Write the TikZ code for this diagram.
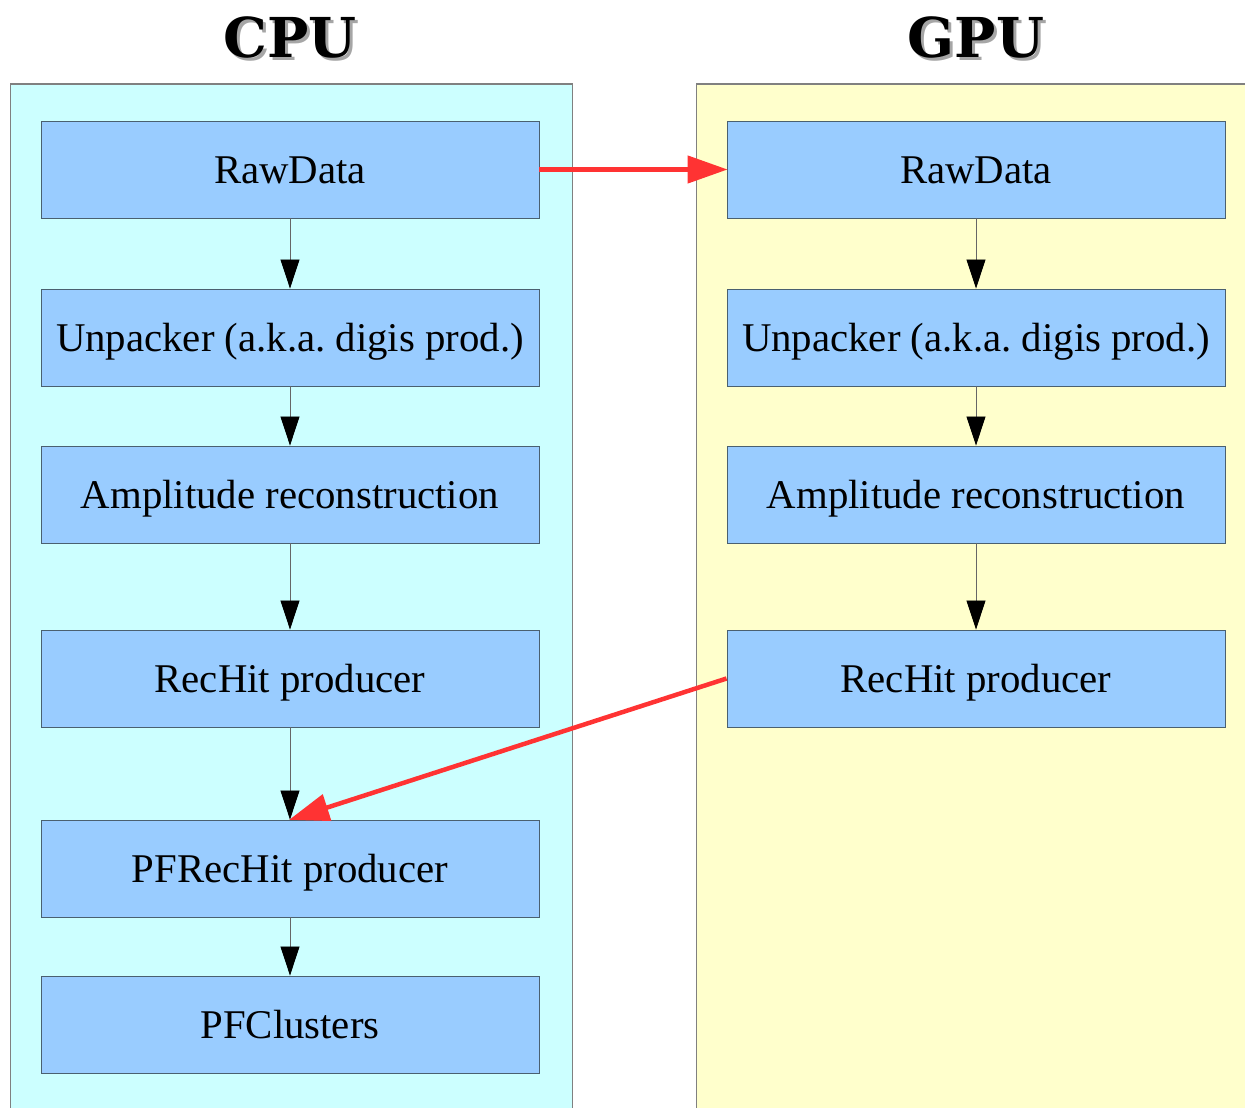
\documentclass[tikz,border=0pt]{standalone}
\usepackage{fontspec}
\setmainfont{Liberation Serif}
\newfontfamily\titlefont{DejaVu Serif}
\usetikzlibrary{arrows.meta}
\frenchspacing
\definecolor{cpubg}{HTML}{CCFFFF}
\definecolor{gpubg}{HTML}{FFFFCC}
\definecolor{boxfill}{HTML}{99CCFF}
\definecolor{boxline}{HTML}{4A6070}
\definecolor{panelline}{HTML}{808080}
\definecolor{redarrow}{HTML}{FF3333}
\tikzset{
  stagebox/.style={draw=boxline, line width=0.9pt, fill=boxfill, minimum width=498pt, minimum height=97pt, inner sep=0pt,
    text height=28pt, text depth=0pt, font=\fontsize{40.8}{48}\selectfont\frenchspacing},
  flow/.style={draw=black!60, line width=0.8pt, -{Triangle[length=29pt,width=19pt,fill=black,color=black]}},
  xfer/.style={draw=redarrow, line width=4.5pt, -{Triangle[length=40pt,width=27pt]}, shorten >=-1pt},
  titletext/.style={font=\titlefont\bfseries\fontsize{55}{60}\selectfont},
}
\newcommand{\shadowed}[1]{\makebox[0pt][l]{\hspace{3pt}\raisebox{-3pt}{\color{black!35}#1}}#1}
\begin{document}
\begin{tikzpicture}[x=1pt,y=-1pt]
\useasboundingbox (0,0) rectangle (1245,1108);
\begin{scope}
\clip (0,0) rectangle (1245,1108);
\draw[panelline, line width=1pt, fill=cpubg] (10,84) rectangle (572,1120);
\draw[panelline, line width=1pt, fill=gpubg] (696,84) rectangle (1260,1120);
\end{scope}
% titles
\node[titletext] (cputitle) at (290,39) {\shadowed{CPU}};
\node[titletext] (gputitle) at (976,39) {\shadowed{GPU}};
% CPU boxes
\node[stagebox] (c1) at (290,169.5) {RawData};
\node[stagebox] (c2) at (290,337.5) {Unpacker (a.k.a. digis prod.)};
\node[stagebox] (c3) at (290,494.5) {Amplitude reconstruction};
\node[stagebox] (c4) at (290,678.5) {RecHit producer};
\node[stagebox] (c5) at (290,868.5) {PFRecHit producer};
\node[stagebox] (c6) at (290,1024.5) {PFClusters};
% GPU boxes
\node[stagebox] (g1) at (976,169.5) {RawData};
\node[stagebox] (g2) at (976,337.5) {Unpacker (a.k.a. digis prod.)};
\node[stagebox] (g3) at (976,494.5) {Amplitude reconstruction};
\node[stagebox] (g4) at (976,678.5) {RecHit producer};
% flow arrows
\draw[flow] (c1) -- (c2);
\draw[flow] (c2) -- (c3);
\draw[flow] (c3) -- (c4);
\draw[flow] (c4) -- (c5);
\draw[flow] (c5) -- (c6);
\draw[flow] (g1) -- (g2);
\draw[flow] (g2) -- (g3);
\draw[flow] (g3) -- (g4);
% transfers
\draw[xfer] (c1.east) -- (g1.west);
\draw[xfer] (g4.west) -- (c5.north);
\end{tikzpicture}
\end{document}
